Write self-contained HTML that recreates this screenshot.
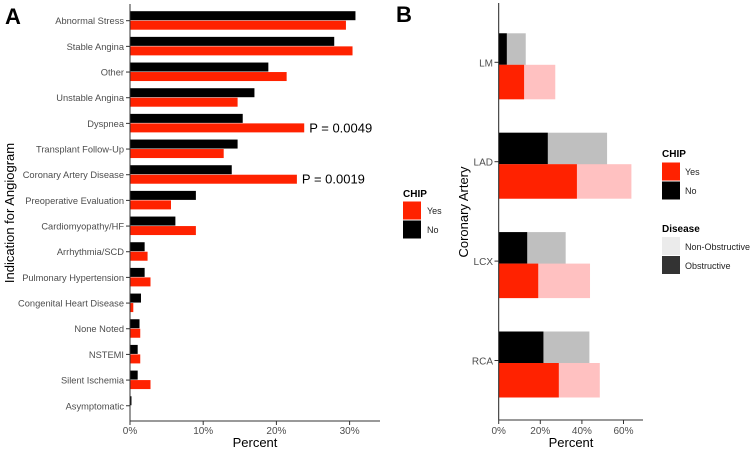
<!DOCTYPE html>
<html><head><meta charset="utf-8"><style>
body{margin:0;background:#fff;width:750px;height:450px;overflow:hidden}
svg{font-family:"Liberation Sans",Arial,sans-serif}
</style></head><body>
<svg id="chart" width="750" height="450">
</svg>
<script>
const catsA=["Abnormal Stress","Stable Angina","Other","Unstable Angina","Dyspnea","Transplant Follow-Up","Coronary Artery Disease","Preoperative Evaluation","Cardiomyopathy/HF","Arrhythmia/SCD","Pulmonary Hypertension","Congenital Heart Disease","None Noted","NSTEMI","Silent Ischemia","Asymptomatic"];
const noA=[30.8,27.9,18.9,17.0,15.4,14.7,13.9,9.0,6.2,2.0,2.0,1.5,1.3,1.05,1.05,0.2];
const yesA=[29.5,30.4,21.4,14.7,23.8,12.8,22.8,5.6,9.0,2.4,2.8,0.45,1.4,1.4,2.8,0];
const ticksA=[0,10,20,30];
const pLabels=[{cat:4,text:"P = 0.0049"},{cat:6,text:"P = 0.0019"}];
const catsB=["LM","LAD","LCX","RCA"];
const noObsB=[3.9,23.6,13.7,21.5];
const noTotB=[13.0,52.1,32.2,43.6];
const yesObsB=[12.2,37.6,19.0,28.9];
const yesTotB=[27.2,63.8,43.9,48.6];
const ticksB=[0,20,40,60];

const svg=document.getElementById('chart');
const NS="http://www.w3.org/2000/svg";
function el(tag,attrs,parent){const e=document.createElementNS(NS,tag);for(const k in attrs)e.setAttribute(k,attrs[k]);(parent||svg).appendChild(e);return e;}
function txt(s,attrs,parent){const e=el('text',attrs,parent);e.textContent=s;return e;}
const RED="#ff2200",BLK="#000",LRED="#ffc1c1",GRY="#bfbfbf";

// Panel A
const xA=v=>130+v*7.32;
const yA=i=>20.7+i*25.67;
const gA=el('g',{});


let t=txt("A",{x:5,y:24,'font-size':22,'font-weight':'bold'},gA);

catsA.forEach((c,i)=>{
  const y=yA(i);
  let r=el('rect',{x:130,y:y-9.5,width:xA(noA[i])-130,height:9,fill:BLK},gA);
  
  r=el('rect',{x:130,y:y,width:xA(yesA[i])-130,height:9,fill:RED},gA);
  
  el('line',{x1:126,x2:130,y1:y,y2:y,stroke:'#333'},gA);
  let l=txt(c,{x:124,y:y+3.5,'font-size':9.3,fill:'#4d4d4d','text-anchor':'end'},gA);
  
});
pLabels.forEach(p=>{
  let l=txt(p.text,{x:xA(yesA[p.cat])+5,y:yA(p.cat)+9,'font-size':13,fill:'#000'},gA);
  
});
el('line',{x1:130,x2:130,y1:4,y2:421,stroke:'#333','stroke-width':1},gA);
el('line',{x1:130,x2:380,y1:421,y2:421,stroke:'#333','stroke-width':1},gA);
ticksA.forEach(v=>{
  el('line',{x1:xA(v),x2:xA(v),y1:421,y2:425,stroke:'#333'},gA);
  let l=txt(v+"%",{x:xA(v),y:434,'font-size':10,fill:'#4d4d4d','text-anchor':'middle'},gA);
  
});
t=txt("Percent",{x:255,y:447,'font-size':13,'text-anchor':'middle'},gA);

t=txt("Indication for Angiogram",{x:0,y:0,'font-size':13,'text-anchor':'middle',transform:'translate(14,213) rotate(-90)'},gA);

// legend A
t=txt("CHIP",{x:403,y:197,'font-size':10,'font-weight':'bold'},gA);

el('rect',{x:403,y:201.5,width:18,height:18,fill:RED},gA);
el('rect',{x:403,y:220.5,width:18,height:18,fill:BLK},gA);
t=txt("Yes",{x:427,y:214,'font-size':9,fill:'#222'},gA);
t=txt("No",{x:427,y:233,'font-size':9,fill:'#222'},gA);

// Panel B
const xB=v=>498.7+v*2.08;
const yB=i=>62.3+i*99.4;
const gB=el('g',{});


t=txt("B",{x:396,y:22,'font-size':22,'font-weight':'bold'},gB);

catsB.forEach((c,i)=>{
  const y=yB(i);
  let r=el('rect',{x:498.7,y:y-29,width:xB(noTotB[i])-498.7,height:34,fill:GRY},gB);
  
  r=el('rect',{x:498.7,y:y-29,width:xB(noObsB[i])-498.7,height:34,fill:BLK},gB);
  
  r=el('rect',{x:498.7,y:y+2.5,width:xB(yesTotB[i])-498.7,height:34.5,fill:LRED},gB);
  
  r=el('rect',{x:498.7,y:y+2.5,width:xB(yesObsB[i])-498.7,height:34.5,fill:RED},gB);
  
  el('line',{x1:494.5,x2:498.7,y1:y,y2:y,stroke:'#333'},gB);
  let l=txt(c,{x:493,y:y+4,'font-size':10,fill:'#4d4d4d','text-anchor':'end'},gB);
  
});
el('line',{x1:498.7,x2:498.7,y1:3,y2:420,stroke:'#222','stroke-width':1},gB);
el('line',{x1:498.7,x2:643,y1:420,y2:420,stroke:'#333','stroke-width':1},gB);
ticksB.forEach(v=>{
  el('line',{x1:xB(v),x2:xB(v),y1:420,y2:424,stroke:'#333'},gB);
  let l=txt(v+"%",{x:xB(v),y:434,'font-size':10,fill:'#4d4d4d','text-anchor':'middle'},gB);
  
});
t=txt("Percent",{x:571,y:447,'font-size':13,'text-anchor':'middle'},gB);

t=txt("Coronary Artery",{x:0,y:0,'font-size':13,'text-anchor':'middle',transform:'translate(468,212) rotate(-90)'},gB);

t=txt("CHIP",{x:662,y:157,'font-size':10,'font-weight':'bold'},gB);

el('rect',{x:662,y:162.5,width:18,height:18,fill:RED},gB);
el('rect',{x:662,y:181.5,width:18,height:18,fill:BLK},gB);
t=txt("Yes",{x:685,y:175,'font-size':9,fill:'#222'},gB);
t=txt("No",{x:685,y:194,'font-size':9,fill:'#222'},gB);
t=txt("Disease",{x:662,y:232,'font-size':10,'font-weight':'bold'},gB);

el('rect',{x:662,y:237,width:18,height:18,fill:'#ebebeb'},gB);
el('rect',{x:662,y:256,width:18,height:18,fill:'#333'},gB);
t=txt("Non-Obstructive",{x:685,y:250,'font-size':9,fill:'#222'},gB);
t=txt("Obstructive",{x:685,y:269,'font-size':9,fill:'#222'},gB);
</script>
</body></html>
